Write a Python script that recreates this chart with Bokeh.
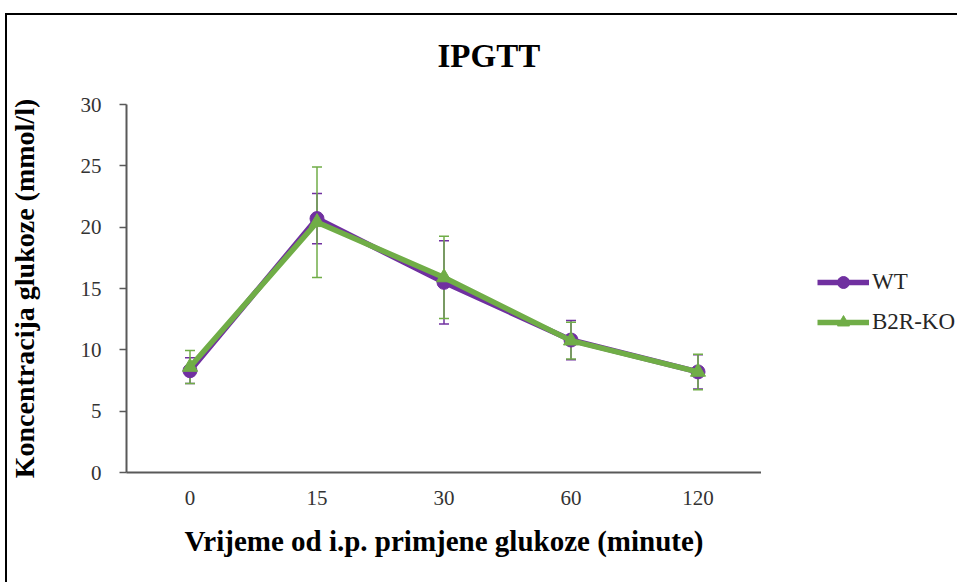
from bokeh.plotting import figure
from bokeh.layouts import row
from bokeh.models import (FactorRange, ColumnDataSource, Whisker, TeeHead, Legend,
                          LegendItem)
from bokeh.embed import file_html
from bokeh.resources import INLINE

# ---- data ----
times = ["0", "15", "30", "60", "120"]
wt_mean = [8.3, 20.7, 15.5, 10.8, 8.2]
wt_sd = [1.05, 2.05, 3.4, 1.6, 1.4]
ko_mean = [8.6, 20.4, 15.9, 10.75, 8.2]
ko_sd = [1.35, 4.5, 3.35, 1.5, 1.45]
y_ticks = [0, 5, 10, 15, 20, 25, 30]

title_text = "IPGTT"
x_label = "Vrijeme od i.p. primjene glukoze (minute)"
y_label = "Koncentracija glukoze (mmol/l)"
series_names = ["WT", "B2R-KO"]

PURPLE = "#7030A0"
GREEN = "#70AD47"
AXIS = "#595959"
FONT = "Liberation Serif"
LINE_W = 5.5

p = figure(x_range=FactorRange(factors=times), y_range=(0, 30),
           width=761, height=582, output_backend="svg", toolbar_location=None,
           min_border_left=126, min_border_right=0, min_border_top=104,
           min_border_bottom=110)
# outer chart border drawn as CSS background behind a transparent canvas border
p.styles = {"background": "linear-gradient(#000,#000) 5px 13px / 2px 100% no-repeat, "
                          "linear-gradient(#000,#000) 5px 13px / 100% 2px no-repeat, #fff"}
p.border_fill_color = None
p.outline_line_color = None
p.xgrid.visible = False
p.ygrid.visible = False
p.background_fill_color = "white"

p.title.text = title_text
p.title.align = "left"
p.title.offset = 311
p.title.vertical_align = "top"
p.title.standoff = 57
p.title.text_font = FONT
p.title.text_font_style = "bold"
p.title.text_font_size = "33px"
p.title.text_color = "black"

# axes
p.yaxis.ticker = y_ticks
for ax in (p.xaxis[0], p.yaxis[0]):
    ax.axis_line_color = AXIS
    ax.axis_line_width = 2
    ax.major_label_text_font = FONT
    ax.major_label_text_font_size = "21px"
    ax.major_label_text_color = "#333333"
    ax.axis_label_text_font = FONT
    ax.axis_label_text_font_style = "bold"
    ax.axis_label_text_color = "black"
    ax.minor_tick_line_color = None
p.yaxis.axis_label_text_font_size = "28px"
p.xaxis.axis_label_text_font_size = "29px"
p.yaxis.major_tick_line_color = AXIS
p.yaxis.major_tick_line_width = 1.5
p.yaxis.major_tick_out = 7
p.yaxis.major_tick_in = 0
p.yaxis.major_label_standoff = 18
p.yaxis.axis_label = y_label
p.yaxis.axis_label_standoff = 38
p.xaxis.major_tick_line_color = None
p.xaxis.major_label_standoff = 12
p.xaxis.axis_label = x_label
p.xaxis.axis_label_standoff = 17

def add_series(mean, sd, color, marker, size):
    src = ColumnDataSource(dict(x=times, y=mean,
                                upper=[m + s for m, s in zip(mean, sd)],
                                lower=[m - s for m, s in zip(mean, sd)]))
    w = Whisker(base="x", upper="upper", lower="lower", source=src,
                line_color=color, line_width=1.5,
                upper_head=TeeHead(size=10, line_color=color, line_width=1.5),
                lower_head=TeeHead(size=10, line_color=color, line_width=1.5))
    p.add_layout(w)
    p.line("x", "y", source=src, line_color=color, line_width=LINE_W)
    p.scatter("x", "y", source=src, marker=marker, size=size,
              fill_color=color, line_color=color)
    return src

src_wt = add_series(wt_mean, wt_sd, PURPLE, "circle", 14)
src_ko = add_series(ko_mean, ko_sd, GREEN, "triangle", 15)

# legend panel to the right of the plot (hidden proxy renderers of the same series)
lp = figure(width=196, height=582, x_range=FactorRange(factors=times), y_range=(0, 30),
            output_backend="svg", toolbar_location=None, min_border=0,
            x_axis_type=None, y_axis_type=None)
lp.styles = {"background": "linear-gradient(#000,#000) 0px 13px / 100% 2px no-repeat, #fff"}
lp.border_fill_color = None
lp.background_fill_color = None
lp.outline_line_color = None

def proxy(src, color, marker):
    ln = lp.line("x", "y", source=src, line_color=color, line_width=LINE_W, visible=False)
    sc = lp.scatter("x", "y", source=src, marker=marker, fill_color=color,
                    line_color=color, visible=False)
    return [ln, sc]

legend = Legend(items=[LegendItem(label=series_names[0], renderers=proxy(src_wt, PURPLE, "circle")),
                       LegendItem(label=series_names[1], renderers=proxy(src_ko, GREEN, "triangle"))],
                location=(56, 135), orientation="vertical",
                glyph_width=52, glyph_height=30, label_height=30,
                label_standoff=3, spacing=10, padding=0, margin=0,
                border_line_color=None, background_fill_alpha=0,
                inactive_fill_alpha=0,
                label_text_font=FONT, label_text_font_size="23px",
                label_text_color="#262626")
lp.add_layout(legend, "center")

layout = row(p, lp, spacing=0)
open("out.html", "w").write(file_html(layout, INLINE))
